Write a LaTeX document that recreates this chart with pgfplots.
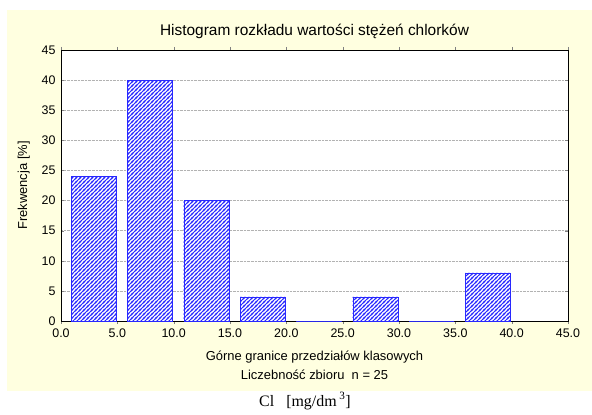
\documentclass[border=0pt]{standalone}
\usepackage{fontspec}
\setmainfont{Liberation Sans}
\newfontfamily\timesfont{Liberation Serif}
\usepackage{pgfplots}
\pgfplotsset{compat=1.18}
\usetikzlibrary{patterns}
\definecolor{panel}{RGB}{255,255,224}
\definecolor{barblue}{RGB}{40,40,255}

% blue diagonal hatching, colour built into the pattern
\pgfdeclarepatterninherentlycolored{bluehatch}{\pgfqpoint{-1bp}{-1bp}}{\pgfqpoint{5bp}{5bp}}{\pgfqpoint{4bp}{4bp}}{
  \pgfsetcolor{barblue}
  \pgfsetlinewidth{0.9bp}
  \pgfpathmoveto{\pgfqpoint{-1bp}{-1bp}}\pgfpathlineto{\pgfqpoint{5bp}{5bp}}
  \pgfpathmoveto{\pgfqpoint{-1bp}{3bp}}\pgfpathlineto{\pgfqpoint{1bp}{5bp}}
  \pgfpathmoveto{\pgfqpoint{3bp}{-1bp}}\pgfpathlineto{\pgfqpoint{5bp}{1bp}}
  \pgfusepath{stroke}
}

\begin{document}
\begin{tikzpicture}[x=1bp,y=1bp]
\path[use as bounding box] (0,0) rectangle (592,414);
\fill[panel] (7,23) rectangle (592,404);
\begin{axis}[
    at={(61bp,93bp)}, anchor=south west,
    scale only axis,
    width=507bp, height=271bp,
    xmin=0, xmax=45, ymin=0, ymax=45,
    axis background/.style={fill=white},
    xtick={0,5,...,45}, ytick={0,5,...,45},
    xticklabel style={yshift=-1bp, /pgf/number format/.cd, fixed, fixed zerofill, precision=1},
    yticklabel style={xshift=-2bp},
    /pgf/number format/assume math mode=true,
    tick label style={font=\fontsize{12.5}{14}\selectfont},
    tick align=inside, major tick length=3bp,
    ymajorgrids,
    grid style={gray!60, densely dotted},
    axis line style={black},
    title={Histogram rozkładu wartości stężeń chlorków},
    title style={font=\fontsize{15.5}{18}\selectfont, yshift=2bp},
    xlabel={Górne granice przedziałów klasowych\\Liczebność zbioru\ \ n = 25},
    xlabel style={font=\fontsize{13}{19}\selectfont, align=center, yshift=-7bp},
    ylabel={Frekwencja [\%]},
    ylabel style={font=\fontsize{13}{15}\selectfont, yshift=5bp},
    ybar, bar width=4,
]
\addplot[draw=barblue, semithick, fill=white, postaction={pattern=bluehatch}]
  coordinates {(2.9,24) (7.9,40) (12.9,20) (17.9,4) (22.9,0) (27.9,4) (32.9,0) (37.9,8)};
\end{axis}
\node[font=\timesfont\fontsize{16}{18}\selectfont] at (305,13) {Cl\ \ \ [mg/dm\,\textsuperscript{3}]};
\end{tikzpicture}
\end{document}
